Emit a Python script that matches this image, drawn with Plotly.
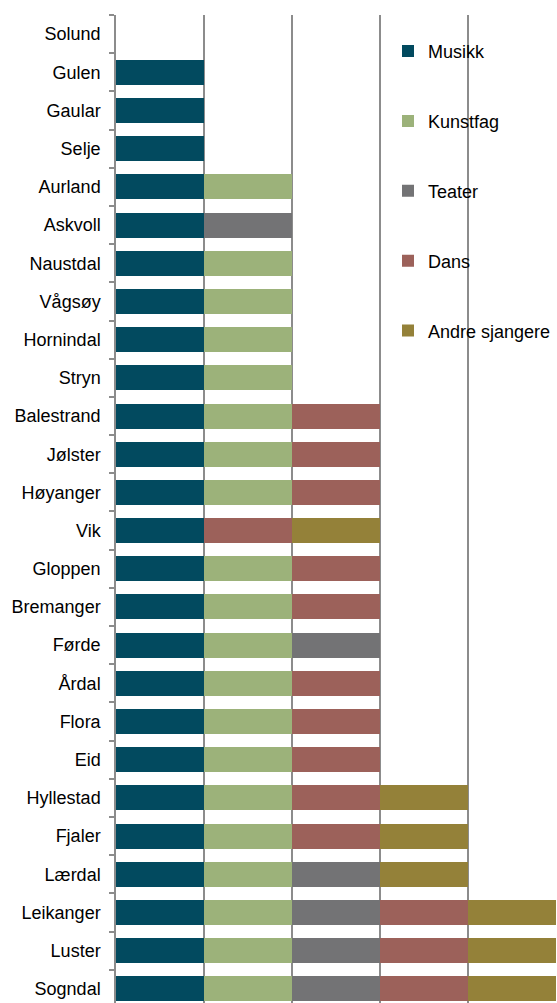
import plotly.graph_objects as go

kommuner = ["Solund", "Gulen", "Gaular", "Selje", "Aurland", "Askvoll", "Naustdal", "Vågsøy",
            "Hornindal", "Stryn", "Balestrand", "Jølster", "Høyanger", "Vik", "Gloppen",
            "Bremanger", "Førde", "Årdal", "Flora", "Eid", "Hyllestad", "Fjaler", "Lærdal",
            "Leikanger", "Luster", "Sogndal"]

musikk   = [0, 1, 1, 1, 1, 1, 1, 1, 1, 1, 1, 1, 1, 1, 1, 1, 1, 1, 1, 1, 1, 1, 1, 1, 1, 1]
kunstfag = [0, 0, 0, 0, 1, 0, 1, 1, 1, 1, 1, 1, 1, 0, 1, 1, 1, 1, 1, 1, 1, 1, 1, 1, 1, 1]
teater   = [0, 0, 0, 0, 0, 1, 0, 0, 0, 0, 0, 0, 0, 0, 0, 0, 1, 0, 0, 0, 0, 0, 1, 1, 1, 1]
dans     = [0, 0, 0, 0, 0, 0, 0, 0, 0, 0, 1, 1, 1, 1, 1, 1, 0, 1, 1, 1, 1, 1, 0, 1, 1, 1]
andre    = [0, 0, 0, 0, 0, 0, 0, 0, 0, 0, 0, 0, 0, 1, 0, 0, 0, 0, 0, 0, 1, 1, 1, 1, 1, 1]

series = [
    ("Musikk", musikk, "#024A5F"),
    ("Kunstfag", kunstfag, "#9CB27A"),
    ("Teater", teater, "#737375"),
    ("Dans", dans, "#9C615A"),
    ("Andre sjangere", andre, "#948139"),
]

fig = go.Figure()
for name, vals, color in series:
    fig.add_trace(go.Bar(
        y=kommuner, x=vals, name=name, orientation="h",
        marker=dict(color=color, line=dict(width=0)),
        legendgroup=name,
    ))

GRID = "#8C8C8C"
fig.update_layout(
    width=557, height=1003,
    barmode="stack", bargap=0.345,
    plot_bgcolor="white", paper_bgcolor="white",
    margin=dict(l=116, r=1, t=15, b=0),
    font=dict(family="Liberation Sans, Arial, sans-serif", size=18, color="#000000"),
    showlegend=True,
    legend=dict(
        x=1.0, xanchor="right", y=0.982, yanchor="top",
        bgcolor="rgba(0,0,0,0)", borderwidth=0,
        tracegroupgap=43.5, traceorder="grouped",
        font=dict(size=18, color="#000000"),
    ),
    shapes=[dict(type="rect", xref="paper", yref="paper", layer="between",
                 x0=0.65, x1=1.01, y0=(1003 - 357) / 988, y1=0.998,
                 line=dict(width=0), fillcolor="white")],
)
fig.update_xaxes(
    range=[0, 5], dtick=1, showgrid=True, gridcolor=GRID, gridwidth=1.5,
    showticklabels=False, zeroline=False, showline=False, ticks="",
)
fig.update_yaxes(
    categoryorder="array", categoryarray=kommuner,
    range=[25.37, -0.5],
    showline=True, linecolor=GRID, linewidth=1.5,
    ticks="outside", tickson="boundaries", ticklen=5, tickcolor=GRID, tickwidth=1.5,
    ticklabelstandoff=10,
    showgrid=False, zeroline=False,
    tickfont=dict(size=18, color="#000000"),
)

fig.write_html("out.html", config={"displayModeBar": False},
               post_script="document.body.style.margin='0';")
